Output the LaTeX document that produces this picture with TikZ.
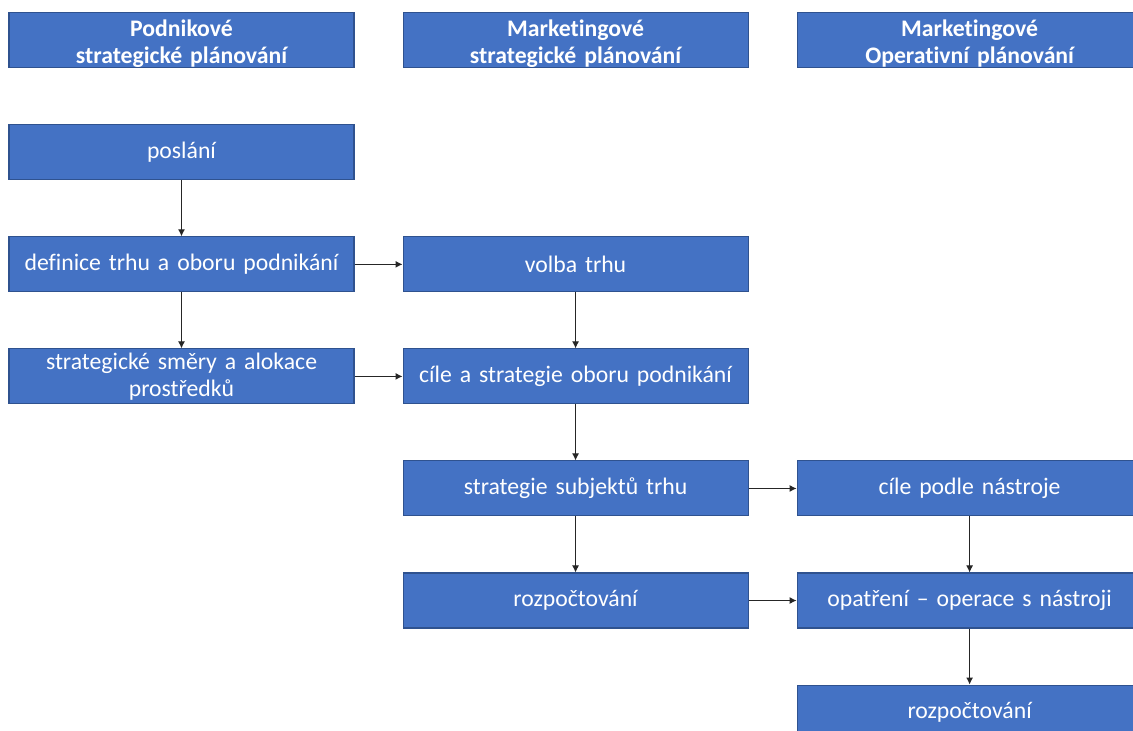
\documentclass[tikz,border=0pt]{standalone}
\usepackage{fontspec}
\setmainfont{Carlito}[Ligatures=NoCommon]
\usepackage{xcolor}
\usetikzlibrary{positioning}
\usetikzlibrary{arrows.meta}

\definecolor{boxfill}{HTML}{4472C4}
\definecolor{boxline}{HTML}{2F528F}
\newcommand{\headstrut}{\rule{0pt}{14pt}}

\begin{document}
\begin{tikzpicture}[
	node distance = 1.12cm and 0.96cm,
	pbox/.style={rectangle, draw=boxline, fill=boxfill, line width=0.6pt, text=white, minimum width=6.9cm, minimum height=1.1cm, text width=6.7cm, align=center, inner sep=0pt, font=\fontsize{13.5}{15.5}\selectfont},
	hbox/.style={pbox, font=\fontsize{13.5}{15.3}\selectfont\bfseries},
	conn/.style={-{Latex[length=4pt,width=4pt]}, line width=0.6pt, black!85},
	]

	\useasboundingbox (0,0) rectangle (22.66,-14.62);
	\clip (0,0) rectangle (22.66,-14.62);

	% column headers
	\node[hbox] (hPodnik) at (3.63,-0.8) {\headstrut Podnikové\\strategické plánování};
	\node[hbox, right=of hPodnik] (hMarkStrat) {\headstrut Marketingové\\strategické plánování};
	\node[hbox, right=of hMarkStrat] (hMarkOper) {\headstrut Marketingové\\Operativní plánování};

	% podnikove planovani
	\node[pbox, below=of hPodnik] (poslani) {poslání};
	\node[pbox, below=of poslani] (definice) {definice trhu a oboru podnikání};
	\node[pbox, below=of definice] (smery) {strategické směry a alokace\\prostředků};

	% marketingove strategicke planovani
	\node[pbox, right=of definice] (volba) {volba trhu};
	\node[pbox, below=of volba] (cileObor) {cíle a strategie oboru podnikání};
	\node[pbox, below=of cileObor] (subjekty) {strategie subjektů trhu};
	\node[pbox, below=of subjekty] (rozpocet) {rozpočtování};

	% marketingove operativni planovani
	\node[pbox, right=of subjekty] (cileNastroj) {cíle podle nástroje};
	\node[pbox, right=of rozpocet] (opatreni) {opatření -- operace s nástroji};
	\node[pbox, below=of opatreni] (rozpocetOp) {rozpočtování};

	\draw[conn] (poslani) -- (definice);
	\draw[conn] (definice) -- (smery);
	\draw[conn] (definice) -- (volba);
	\draw[conn] (smery) -- (cileObor);
	\draw[conn] (volba) -- (cileObor);
	\draw[conn] (cileObor) -- (subjekty);
	\draw[conn] (subjekty) -- (rozpocet);
	\draw[conn] (subjekty) -- (cileNastroj);
	\draw[conn] (rozpocet) -- (opatreni);
	\draw[conn] (cileNastroj) -- (opatreni);
	\draw[conn] (opatreni) -- (rozpocetOp);

\end{tikzpicture}
\end{document}
